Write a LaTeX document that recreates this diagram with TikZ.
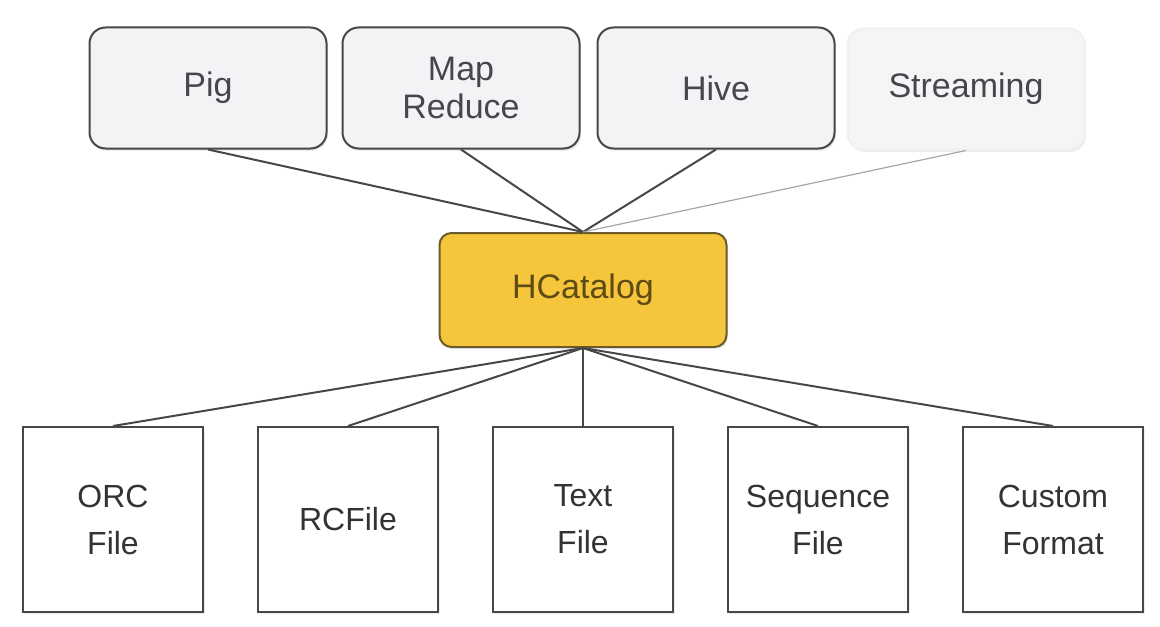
\documentclass[tikz,border=0pt]{standalone}
\usepackage{fontspec}
\setmainfont{Liberation Sans}
\usetikzlibrary{shadows}
\definecolor{boxgray}{HTML}{F3F3F5}
\definecolor{edgegray}{HTML}{474747}
\definecolor{toptext}{HTML}{4A4450}
\definecolor{hubfill}{HTML}{F5C63C}
\definecolor{hubline}{HTML}{6B5A2A}
\definecolor{hubtext}{HTML}{5E4A14}
\begin{document}
\begin{tikzpicture}[x=0.5pt, y=-0.5pt,
    tool/.style={draw=edgegray, line width=1pt, fill=boxgray, rounded corners=8pt,
      minimum width=118.5pt, minimum height=60.5pt, align=center, text=toptext,
      font=\fontsize{17}{19}\selectfont,
      drop shadow={shadow xshift=0.8pt, shadow yshift=-1.2pt, opacity=0.15}},
    hub/.style={draw=hubline, line width=1pt, fill=hubfill, rounded corners=6pt,
      minimum width=143.5pt, minimum height=57pt, text=hubtext,
      font=\fontsize{17}{20.5}\selectfont,
      drop shadow={shadow xshift=0.8pt, shadow yshift=-1.2pt, opacity=0.15}},
    fmt/.style={draw=edgegray, line width=1pt, fill=white,
      minimum width=90pt, minimum height=92.5pt, align=center, text=black!80,
      font=\fontsize{16}{23.5}\selectfont,
      drop shadow={shadow xshift=0.8pt, shadow yshift=-1.2pt, opacity=0.15}},
    link/.style={draw=edgegray, line width=1pt}]
    \useasboundingbox (0,0) rectangle (1160,626);
    % consumers (top row)
    \node[tool] (pig) at (208,88) {Pig};
    \node[tool] (mr) at (461,88) {Map\\Reduce};
    \node[tool] (hive) at (716,88) {Hive};
    \node[tool, draw=black!6, fill=black!4] (stream) at (966,89) {Streaming};
    % table layer
    \node[hub] (hcat) at (583,290) {HCatalog};
    % storage formats (bottom row)
    \node[fmt] (orc) at (113,519.5) {ORC\\File};
    \node[fmt] (rc) at (348,519.5) {RCFile};
    \node[fmt] (txt) at (583,519.5) {Text\\File};
    \node[fmt] (seq) at (818,519.5) {Sequence\\File};
    \node[fmt] (cust) at (1053,519.5) {Custom\\Format};

    % edges
    \foreach \n in {pig,mr,hive} \draw[link] (\n.south)--(hcat.north);
    \draw[black!35, line width=0.6pt] (stream.south)--(hcat.north);
    \foreach \n in {orc,rc,txt,seq,cust} \draw[link] (hcat.south)--(\n.north);
\end{tikzpicture}
\end{document}
